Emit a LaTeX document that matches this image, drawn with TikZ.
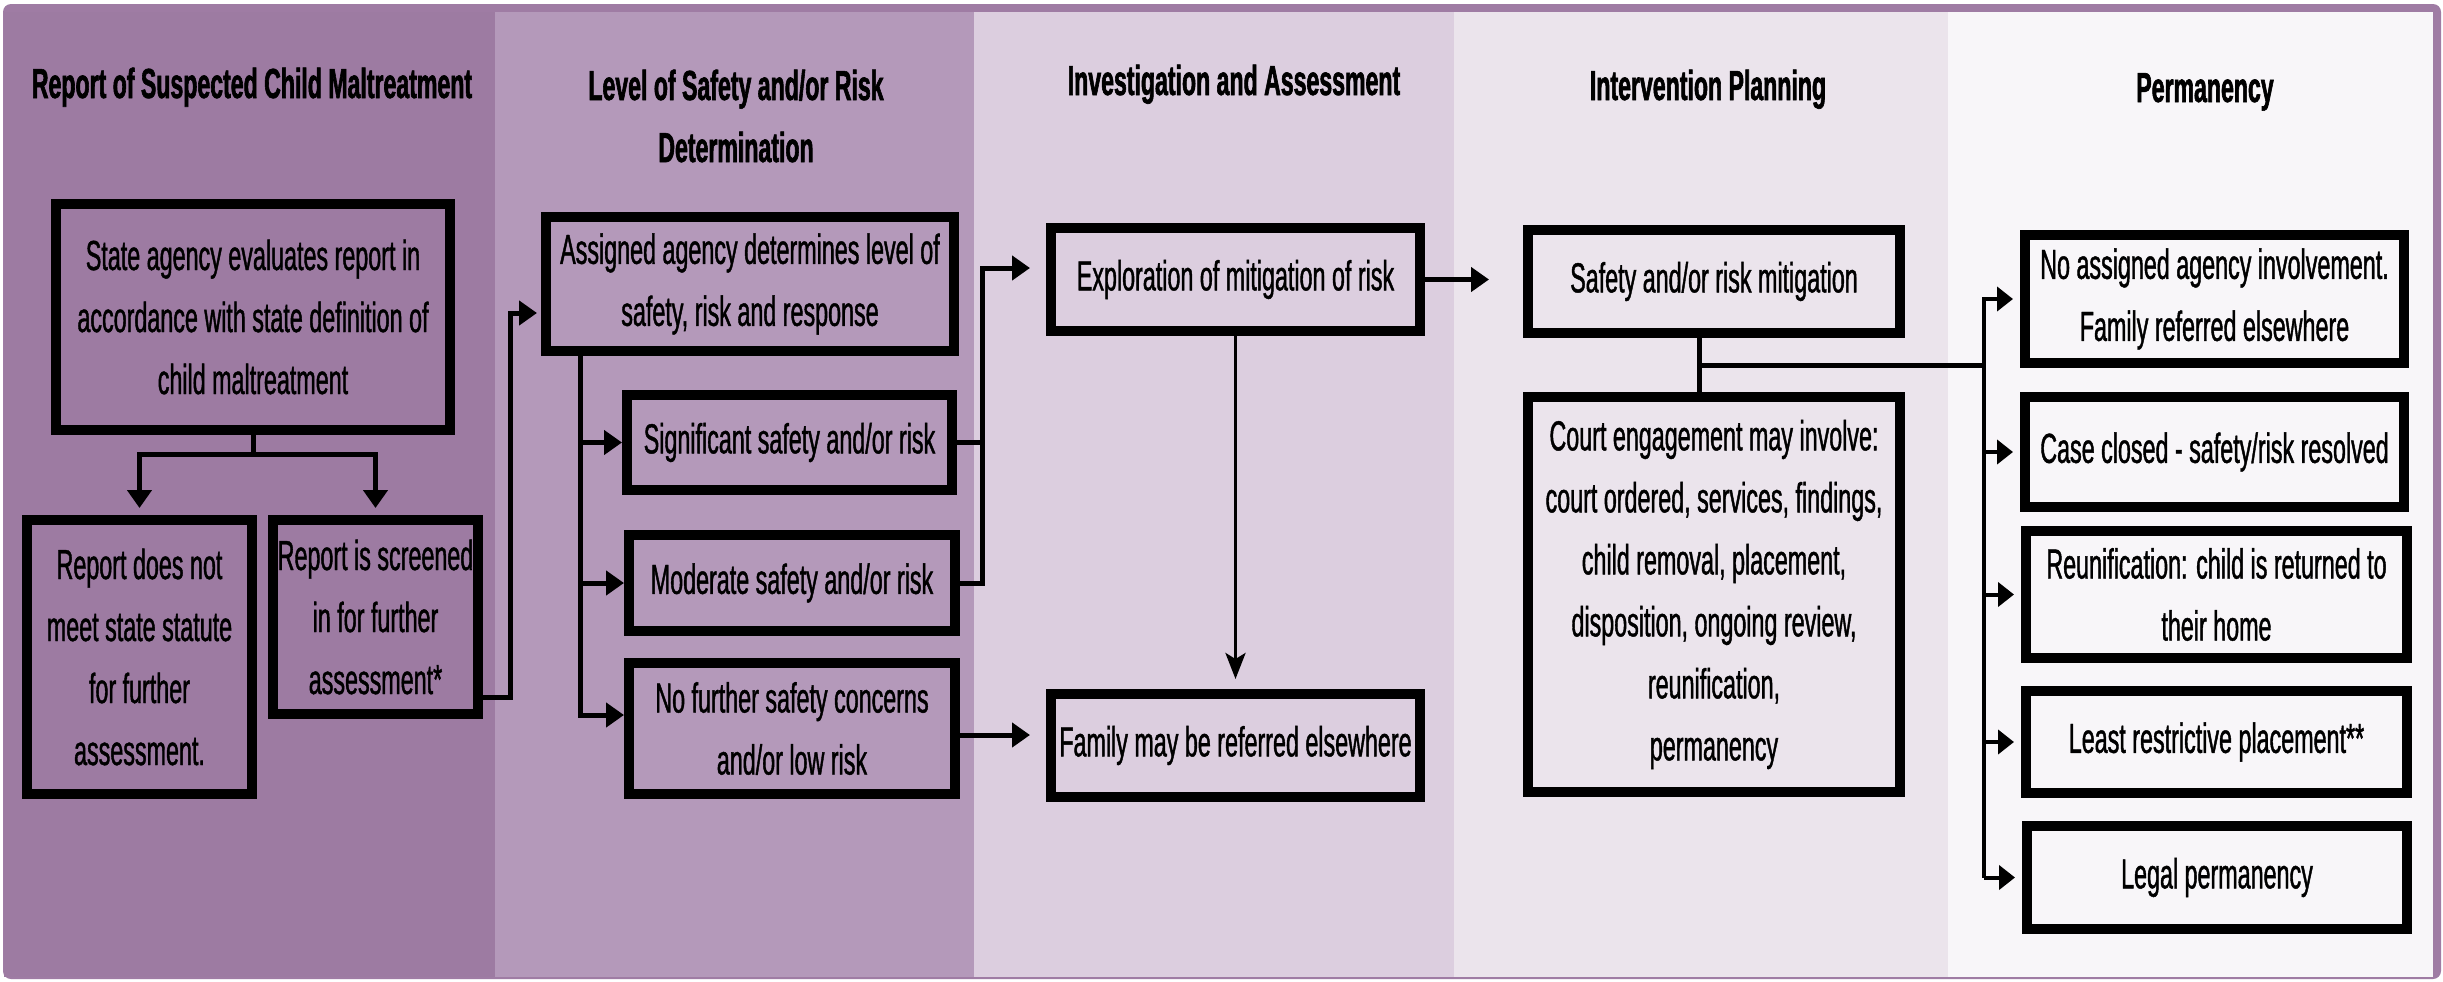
\documentclass[tikz,border=0pt]{standalone}
\usepackage{fontspec}
\setmainfont{Liberation Sans}[FakeStretch=0.555, FakeBold=1.0]
\newfontfamily\headfamily{Liberation Sans}[FakeStretch=0.55, BoldFeatures={FakeBold=1.4}]
\usetikzlibrary{arrows.meta}

\definecolor{frameC}{HTML}{9F7CA4}
\definecolor{laneA}{HTML}{9D7BA2}
\definecolor{laneB}{HTML}{B499BA}
\definecolor{laneC}{HTML}{DCCEDF}
\definecolor{laneD}{HTML}{EBE4EC}
\definecolor{laneE}{HTML}{F8F6F9}

\newcommand\flowbody{\fontsize{21pt}{31pt}\selectfont}
\newcommand\flowhead{\headfamily\bfseries\fontsize{21pt}{31pt}\selectfont}

\begin{document}
\begin{tikzpicture}[x=0.5pt,y=-0.5pt,
  stepbox/.style={draw=black, line width=5pt, inner sep=0pt, align=center, font=\flowbody},
  lanehead/.style={anchor=base, align=center, font=\flowhead, inner sep=0pt},
  link/.style={draw=black, line width=2.5pt},
  arr/.style={link, -{Triangle[length=9pt,width=12pt]}},
  thinarr/.style={draw=black, line width=1.8pt, -{Stealth[length=13pt,width=10pt,inset=3pt]}},
  busline/.style={draw=black, line width=2pt},
  busarr/.style={busline, -{Triangle[length=8pt,width=12pt]}}
]
\useasboundingbox (0,0) rectangle (2443,981);
\fill[white] (0,0) rectangle (2443,981);

% frame and swim lanes
\fill[frameC, rounded corners=4pt] (3,4) rectangle (2441,979);
\fill[laneA] (4,12) rectangle (495,977);
\fill[laneB] (495,12) rectangle (974,977);
\fill[laneC] (974,12) rectangle (1454,977);
\fill[laneD] (1454,12) rectangle (1948,977);
\fill[laneE] (1948,12) rectangle (2433,977);

% lane titles
\node[lanehead] (h1) at (252,98) {Report of Suspected Child Maltreatment};
\node[lanehead] (h2) at (736,162) {Level of Safety and/or Risk\\Determination};
\node[lanehead] (h3) at (1234,95) {Investigation and Assessment};
\node[lanehead] (h4) at (1708,100) {Intervention Planning};
\node[lanehead] (h5) at (2205,102) {Permanency};

% report
\node[stepbox, minimum width=197pt, minimum height=113pt] (b1) at (253,317)
  {State agency evaluates report in\\accordance with state definition of\\child maltreatment};
\node[stepbox, minimum width=112.5pt, minimum height=137pt] (b2) at (139.5,657)
  {Report does not\\meet state statute\\for further\\assessment.};
\node[stepbox, minimum width=102.5pt, minimum height=97pt] (b3) at (375.5,617)
  {Report is screened\\in for further\\assessment*};

% level of safety
\node[stepbox, minimum width=204pt, minimum height=67pt] (b4) at (750,284)
  {Assigned agency determines level of\\safety, risk and response};
\node[stepbox, minimum width=162.5pt, minimum height=47.5pt] (b5) at (789.5,442.5)
  {Significant safety and/or risk};
\node[stepbox, minimum width=163pt, minimum height=48pt] (b6) at (792,583)
  {Moderate safety and/or risk};
\node[stepbox, minimum width=163pt, minimum height=65.5pt] (b7) at (792,728.5)
  {No further safety concerns\\and/or low risk};

% investigation
\node[stepbox, minimum width=184.5pt, minimum height=51.5pt] (b8) at (1235.5,279.5)
  {Exploration of mitigation of risk};
\node[stepbox, minimum width=184.5pt, minimum height=51.5pt] (b9) at (1235.5,745.5)
  {Family may be referred elsewhere};

% intervention
\node[stepbox, minimum width=186pt, minimum height=51.5pt] (b10) at (1714,281.5)
  {Safety and/or risk mitigation};
\node[stepbox, minimum width=186pt, minimum height=197.5pt] (b11) at (1714,594.5)
  {Court engagement may involve:\\court ordered, services, findings,\\child removal, placement,\\disposition, ongoing review,\\reunification,\\permanency};

% permanency
\node[stepbox, minimum width=189.5pt, minimum height=64pt] (b12) at (2214.5,299)
  {No assigned agency involvement.\\Family referred elsewhere};
\node[stepbox, minimum width=189.5pt, minimum height=55pt] (b13) at (2214.5,452)
  {Case closed - safety/risk resolved};
\node[stepbox, minimum width=190.5pt, minimum height=63.5pt] (b14) at (2216.5,594.5)
  {Reunification: child is returned to\\their home};
\node[stepbox, minimum width=190.5pt, minimum height=51pt] (b15) at (2216.5,742)
  {Least restrictive placement**};
\node[stepbox, minimum width=190pt, minimum height=51.5pt] (b16) at (2217,877.5)
  {Legal permanency};

% report split
\path (b1.south) ++(0,19) coordinate (j1);
\draw[link] (b1.south) -- (j1);
\draw[arr, shorten >=3.5pt] (j1) -| (b2.north);
\draw[arr, shorten >=3.5pt] (j1) -| (b3.north);

% screened in -> assigned agency
\draw[arr, shorten >=2pt] ([yshift=11pt]b3.south east) -- ++(27,0) |- ([yshift=-14.5pt]b4.west);

% assigned agency -> levels
\path (b4.south west) ++(39,0) coordinate (t4);
\draw[arr] (t4) |- (b5.west);
\draw[arr] (t4) |- (b6.west);
\draw[arr] (t4) |- ([yshift=6.75pt]b7.west);

% significant / moderate -> exploration
\draw[link] (b5.east) -- ++(25,0);
\draw[arr, shorten >=8pt] (b6.east) -- ++(22,0) |- ([yshift=5.75pt]b8.west);

% low risk -> referral
\path ([yshift=-3.25pt]b7.east) coordinate (s7);
\draw[arr, shorten >=8pt] (s7) -- (s7 -| b9.west);

% exploration -> referral, exploration -> mitigation
\draw[thinarr, shorten >=5pt] (b8.south) -- (b9.north);
\draw[arr, shorten >=17pt] (b8.east) -- (b8.east -| b10.west);

% mitigation -> court
\draw[link] ([xshift=-7.5pt]b10.south) -- ([xshift=-7.5pt]b11.north);
\path ([xshift=-7.5pt]b10.south) ++(0,27) coordinate (j10);

% permanency outcomes
\path (b12.west) ++(-36,0) coordinate (bus);
\draw[link] (j10) -- (j10 -| bus);
\draw[busarr, shorten >=3.5pt] (bus |- b16.west) |- (b12.west);
\draw[busarr, shorten >=3.5pt] (bus |- b13.west) -- (b13.west);
\draw[busarr, shorten >=3.5pt] (bus |- b14.west) -- (b14.west);
\draw[busarr, shorten >=3.5pt] (bus |- b15.west) -- (b15.west);
\draw[busarr, shorten >=3.5pt] (bus |- b16.west) -- (b16.west);
\end{tikzpicture}
\end{document}
